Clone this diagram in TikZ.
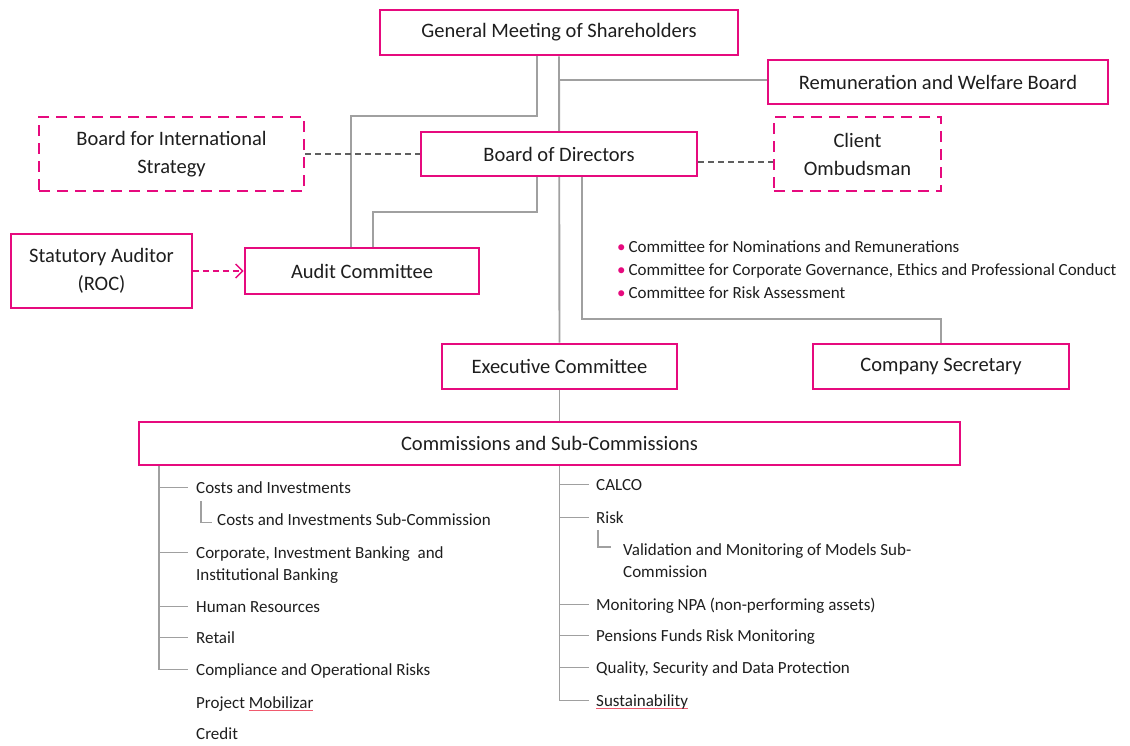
\documentclass[tikz,border=0pt]{standalone}
\usepackage{fontspec}
\setmainfont{Carlito}
\usetikzlibrary{arrows.meta,backgrounds}

\definecolor{orgpink}{RGB}{230,10,126}
\definecolor{orgline}{RGB}{160,160,160}
\definecolor{orgdash}{RGB}{95,95,95}
\definecolor{orgtext}{RGB}{30,30,30}
\definecolor{orgspell}{RGB}{240,90,110}
\newsavebox{\spellbox}
\newcommand{\spellmark}[1]{\sbox{\spellbox}{#1}\rlap{\textcolor{orgspell}{\rule[-3pt]{\wd\spellbox}{0.9pt}}}\usebox{\spellbox}}

\begin{document}
\begin{tikzpicture}[x=1pt,y=-1pt,
  box/.style={draw=orgpink,line width=2.6pt,fill=white,text=orgtext,align=center,
    font=\fontsize{20.5}{28}\selectfont,inner sep=0pt},
  dbox/.style={box,dash pattern=on 11pt off 7pt},
  link/.style={draw=orgline,line width=1.9pt},
  ltext/.style={inner sep=0pt,text=orgtext,font=\fontsize{17}{22}\selectfont},
  item/.style={ltext,anchor=west,text height=11pt,text depth=0pt},
  mitem/.style={ltext,anchor=north west,align=left}]

  \useasboundingbox (0,0) rectangle (1130,745);

  % boxes
  \node[box,minimum width=358pt,minimum height=45pt] (gms) at (559,32.5) {General Meeting of Shareholders};
  \node[box,minimum width=340pt,minimum height=44pt] (rwb) at (938,82) {Remuneration and Welfare Board};
  \node[dbox,minimum width=265pt,minimum height=74pt] (bis) at (171.5,154) {Board for International\\Strategy};
  \node[box,minimum width=276pt,minimum height=44pt] (bod) at (559,154) {Board of Directors};
  \node[dbox,minimum width=167pt,minimum height=74pt] (cob) at (857.5,154) {Client\\Ombudsman};
  \node[box,minimum width=181pt,minimum height=74pt] (sta) at (101.5,271) {Statutory Auditor\\(ROC)};
  \node[box,minimum width=234pt,minimum height=46pt] (auc) at (362,271) {Audit Committee};
  \node[box,minimum width=235pt,minimum height=45pt] (exc) at (559.5,366.5) {Executive Committee};
  \node[box,minimum width=256pt,minimum height=45pt] (cse) at (941,366.5) {Company Secretary};
  \node[box,minimum width=821pt,minimum height=43pt] (csc) at (549.5,443.5) {Commissions and Sub-Commissions};

  % board committees
  \node[ltext,anchor=north west,align=left,font=\fontsize{17}{23}\selectfont] (cmt) at (617,240)
    {\textcolor{orgpink}{\textbullet}\,Committee for Nominations and Remunerations\\
     \textcolor{orgpink}{\textbullet}\,Committee for Corporate Governance, Ethics and Professional Conduct\\
     \textcolor{orgpink}{\textbullet}\,Committee for Risk Assessment};

  % left commissions
  \coordinate (lroot) at ([xshift=21pt]csc.south west);
  \node[item] (lci) at (196,487.5) {Costs and Investments};
  \node[item] (lcs) at (217,519.5) {Costs and Investments Sub-Commission};
  \node[mitem] (lcb) at (196,546.5) {Corporate, Investment Banking~ and\\Institutional Banking};
  \node[item] (lhr) at (196,606.5) {Human Resources};
  \node[item] (lre) at (196,637.5) {Retail};
  \node[item] (lco) at (196,669.5) {Compliance and Operational Risks};
  \node[item] (lpm) at (196,702.5) {Project \spellmark{Mobilizar}};
  \node[item] (lcr) at (196,733.5) {Credit};

  % right commissions
  \coordinate (rroot) at (exc.south |- csc.south);
  \node[item] (rca) at (596,484.5) {CALCO};
  \node[item] (rri) at (596,517.5) {Risk};
  \node[mitem] (rvm) at (623,543) {Validation and Monitoring of Models Sub-\\Commission};
  \node[item] (rnp) at (596,604.5) {Monitoring NPA (non-performing assets)};
  \node[item] (rpf) at (596,635.5) {Pensions Funds Risk Monitoring};
  \node[item] (rqs) at (596,667.5) {Quality, Security and Data Protection};
  \node[item] (rsu) at (596,700.5) {\spellmark{Sustainability}};

  \begin{pgfonlayer}{background}
    % reporting lines
    \draw[link] (gms.south) -- (exc.north);
    \draw[link] (gms.south |- 0,80) -- (rwb.west |- 0,80);
    \draw[link] ([xshift=-22pt]gms.south) -- ++(0,60) -| ([xshift=-11pt]auc.north);
    \draw[link] ([xshift=-22pt]bod.south) -- ++(0,35) -| ([xshift=11pt]auc.north);
    \draw[link] ([xshift=23pt]bod.south) -- ++(0,142) -| (cse.north);
    \draw[link] (exc.south) -- (exc.south |- csc.north);
    % advisory lines
    \draw[orgdash,line width=1.8pt,dash pattern=on 6pt off 4pt] (bis.east) -- (bod.west);
    \draw[orgdash,line width=1.2pt,dash pattern=on 6pt off 4pt] ([yshift=-8pt]bod.east) -- ([yshift=-8pt]cob.west);
    \draw[orgpink,line width=1.6pt,dash pattern=on 6pt off 4pt,-{Straight Barb[length=7pt,width=14pt,line width=1.4pt]}] (sta.east) -- (auc.west);
    % commission trees
    \draw[link] (lroot) |- ([xshift=-8pt]lci.west);
    \draw[link] (lroot) |- ([xshift=-8pt,yshift=-6pt]lcb.north west);
    \draw[link] (lroot) |- ([xshift=-8pt]lhr.west);
    \draw[link] (lroot) |- ([xshift=-8pt]lre.west);
    \draw[link] (lroot) |- ([xshift=-8pt]lco.west);
    \draw[link,line width=1.2pt] ([xshift=5pt,yshift=-8pt]lci.south west) |- ([xshift=-5pt,yshift=-3pt]lcs.west);
    \draw[link] (rroot) |- ([xshift=-7pt]rca.west);
    \draw[link] (rroot) |- ([xshift=-7pt]rri.west);
    \draw[link] (rroot) |- ([xshift=-7pt]rnp.west);
    \draw[link] (rroot) |- ([xshift=-7pt]rpf.west);
    \draw[link] (rroot) |- ([xshift=-7pt]rqs.west);
    \draw[link] (rroot) |- ([xshift=-7pt]rsu.west);
    \draw[link,line width=1.2pt] ([xshift=2pt,yshift=-7pt]rri.south west) |- ([xshift=-12pt,yshift=-4pt]rvm.north west);
  \end{pgfonlayer}
\end{tikzpicture}
\end{document}
